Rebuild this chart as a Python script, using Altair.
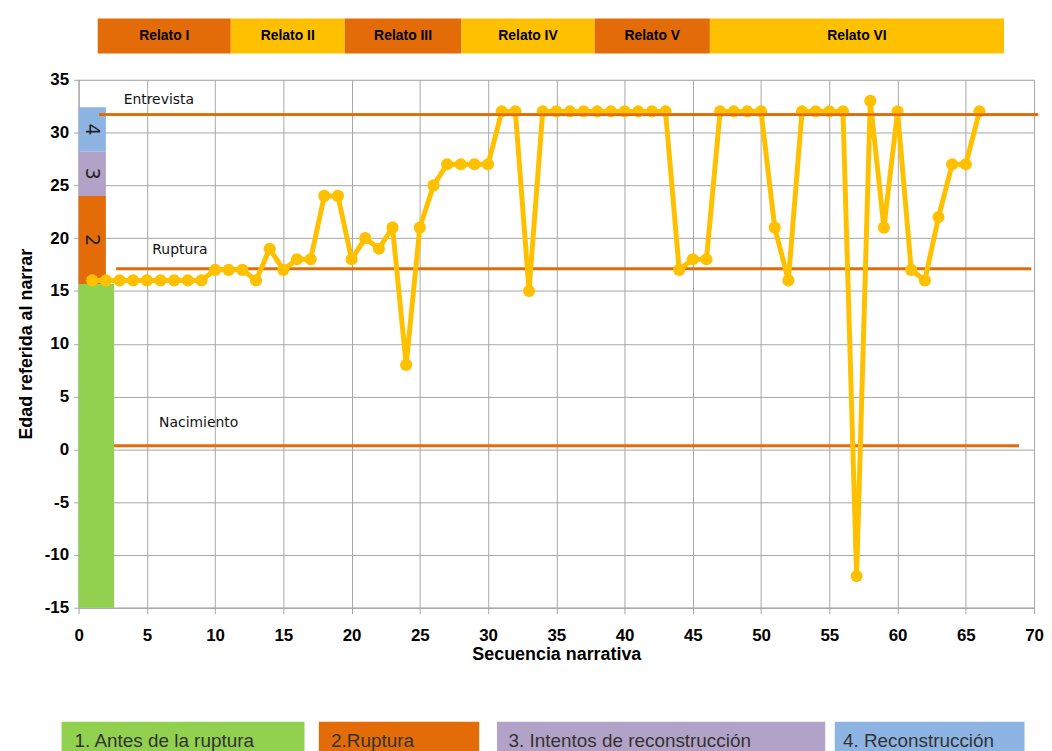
import altair as alt
import pandas as pd

# ---- data ----
seq = list(range(1, 67))
edad = [16, 16, 16, 16, 16, 16, 16, 16, 16, 17, 17, 17, 16, 19, 17, 18, 18, 24, 24, 18,
        20, 19, 21, 8, 21, 25, 27, 27, 27, 27, 32, 32, 15, 32, 32, 32, 32, 32, 32, 32,
        32, 32, 32, 17, 18, 18, 32, 32, 32, 32, 21, 16, 32, 32, 32, 32, -12, 33, 21, 32,
        17, 16, 22, 27, 27, 32]

stage_ids = ["1", "2", "3", "4"]
stage_names = ["1.  Antes de la ruptura", "2.Ruptura", "3. Intentos de reconstrucción", "4. Reconstrucción"]
stage_low = [-15, 15.65, 24.0, 28.2]
stage_high = [15.65, 24.0, 28.2, 32.4]
stage_x_end = [2.6, 2.0, 2.0, 2.0]
stage_colors = ["#92D050", "#E36C09", "#B3A2C7", "#8DB4E2"]

ref_names = ["Entrevista", "Ruptura", "Nacimiento"]
ref_values = [31.7, 17.1, 0.35]
ref_start = [1.5, 2.75, 2.6]
ref_end = [70.3, 69.8, 68.9]
ref_label_x = [3.3, 5.4, 5.9]
ref_label_y = [33.1, 18.9, 2.5]

relatos = ["Relato I", "Relato II", "Relato III", "Relato IV", "Relato V", "Relato VI"]
relato_start = [1.4, 11.15, 19.5, 28.05, 37.8, 46.25]
relato_end = [11.15, 19.5, 28.05, 37.8, 46.25, 67.8]
relato_colors = ["#E36C09", "#FFC000", "#E36C09", "#FFC000", "#E36C09", "#FFC000"]

# layout for the decorative band above and legend boxes below (axis units)
band_y = (37.5, 40.8)
legend_y = (-25.8, -29.6)
legend_x0 = [-1.25, 17.6, 30.65, 55.4]
legend_x1 = [16.55, 29.35, 54.7, 69.3]
legend_text_x = [-0.3, 18.5, 31.5, 56.0]

# ---- tables ----
series = pd.DataFrame({"seq": seq, "edad": edad})
stages = pd.DataFrame({"stage": stage_ids, "name": stage_names, "lo": stage_low, "hi": stage_high,
                       "x0": [0] * 4, "x1": stage_x_end,
                       "mid": [(a + b) / 2 for a, b in zip(stage_low, stage_high)],
                       "lx0": legend_x0, "lx1": legend_x1, "ltx": legend_text_x,
                       "ly0": [legend_y[0]] * 4, "ly1": [legend_y[1]] * 4,
                       "lty": [(legend_y[0] + legend_y[1]) / 2 + 0.1] * 4})
refs = pd.DataFrame({"name": ref_names, "v": ref_values, "x0": ref_start, "x1": ref_end,
                     "lx": ref_label_x, "ly": ref_label_y})
rel = pd.DataFrame({"name": relatos, "x0": relato_start, "x1": relato_end,
                    "y0": [band_y[0]] * 6, "y1": [band_y[1]] * 6,
                    "xm": [(a + b) / 2 for a, b in zip(relato_start, relato_end)],
                    "ym": [(band_y[0] + band_y[1]) / 2] * 6, "col": relato_colors})

GRID = "#A6A6A6"
LBL_FONT = "Liberation Sans"
x_scale = alt.Scale(domain=[0, 70], nice=False, zero=False)
y_scale = alt.Scale(domain=[-15, 35], nice=False, zero=False)
x_axis = alt.Axis(values=list(range(0, 71, 5)), grid=True, gridColor=GRID, domainColor=GRID,
                  tickColor=GRID, tickSize=6, labelFont=LBL_FONT, labelFontSize=17,
                  labelFontWeight="bold", labelColor="black", labelPadding=14, labelFlush=False,
                  title="Secuencia narrativa", titleFont=LBL_FONT, titleFontSize=18,
                  titleFontWeight="bold", titleColor="black", titlePadding=2)
y_axis = alt.Axis(values=list(range(-15, 36, 5)), grid=True, gridColor=GRID, domainColor=GRID,
                  tickColor=GRID, tickSize=5, labelFont=LBL_FONT, labelFontSize=17,
                  labelFontWeight="bold", labelColor="black", labelPadding=5, labelFlush=False,
                  labelExpr="toString(datum.value)",
                  title="Edad  referida al narrar", titleFont=LBL_FONT, titleFontSize=18,
                  titleFontWeight="bold", titleColor="black", titlePadding=9)


def X(f):
    return alt.X(f, type="quantitative", scale=x_scale, axis=x_axis)


def Y(f):
    return alt.Y(f, type="quantitative", scale=y_scale, axis=y_axis)


stage_color = alt.Color("stage:N", scale=alt.Scale(domain=stage_ids, range=stage_colors), legend=None)

stage_bars = alt.Chart(stages).mark_rect(clip=False).encode(
    x=X("x0"), x2="x1", y=Y("lo"), y2="hi", color=stage_color)

stage_nums = alt.Chart(stages).transform_filter("datum.stage != '1'").mark_text(
    angle=90, fontSize=19, font="DejaVu Sans", color="#222").encode(
    x=X("x0"), xOffset=alt.value(13), y=Y("mid"), text="stage:N")

ref_lines = alt.Chart(refs).mark_rule(color="#E36C09", strokeWidth=3).encode(
    x=X("x0"), x2="x1", y=Y("v"))
ref_top = alt.Chart(refs).transform_filter("datum.name == 'Entrevista'").mark_rule(
    color="#E36C09", strokeWidth=3).encode(x=X("x0"), x2="x1", y=Y("v"))
ref_labels = alt.Chart(refs).mark_text(align="left", baseline="middle", fontSize=14,
                                       font="DejaVu Sans", color="#111").encode(
    x=X("lx"), y=Y("ly"), text="name:N")

line = alt.Chart(series).mark_line(
    color="#FFC000", strokeWidth=5,
    point=alt.OverlayMarkDef(filled=True, size=150, color="#FFC000", opacity=1)).encode(
    x=X("seq"), y=Y("edad"))

band = alt.Chart(rel).mark_rect(clip=False).encode(
    x=X("x0"), x2="x1", y=Y("y0"), y2="y1",
    color=alt.Color("col:N", scale=None))
band_text = alt.Chart(rel).mark_text(clip=False, fontSize=14, fontWeight="bold",
                                     font="Liberation Sans", color="black").encode(
    x=X("xm"), y=Y("ym"), text="name:N")

leg_boxes = alt.Chart(stages).mark_rect(clip=False).encode(
    x=X("lx0"), x2="lx1", y=Y("ly0"), y2="ly1", color=stage_color)
leg_text = alt.Chart(stages).mark_text(clip=False, align="left", baseline="middle",
                                       fontSize=19, font="Liberation Sans",
                                       color="#333").encode(
    x=X("ltx"), y=Y("lty"), text="name:N")

chart = alt.layer(
    stage_bars, ref_lines, line, ref_top, stage_nums, ref_labels,
    band, band_text, leg_boxes, leg_text
).properties(
    width=961, height=531,
    padding={"left": 9, "top": 8, "right": 0, "bottom": 0}
).configure_view(stroke=None).configure(background="white")

chart.save("out.html", embed_options={"renderer": "svg", "actions": False})
